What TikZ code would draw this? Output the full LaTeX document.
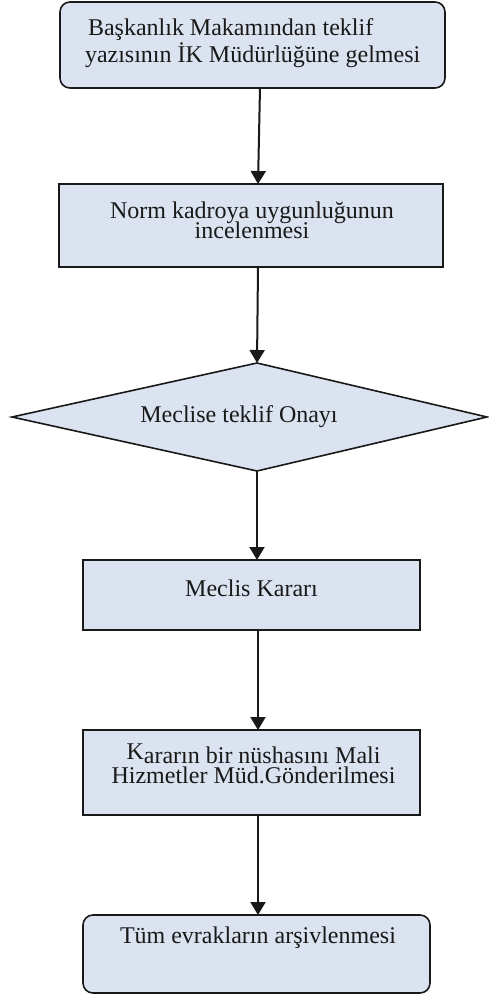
\documentclass[tikz,border=0pt]{standalone}
\usepackage{fontspec}
\setmainfont{Liberation Serif}
\usetikzlibrary{arrows.meta}
\definecolor{boxfill}{HTML}{DCE3F0}
\newcommand{\myskips}{\lineskiplimit-100pt\relax\lineskip0pt\relax}
\begin{document}
\begin{tikzpicture}[x=1pt,y=-1pt,
  shapeline/.style={draw=black!90, line width=1.6pt, fill=boxfill},
  box/.style={shapeline, inner sep=0pt, outer sep=0pt},
  rbox/.style={box, rounded corners=10pt},
  txt/.style={font={\fontsize{24}{27}\selectfont\myskips}, inner sep=0pt, outer sep=0pt, text=black!90},
  tight/.style={font={\fontsize{24}{20}\selectfont\myskips}},
  arr/.style={line width=2pt, draw=black!90, -{Triangle[width=15pt,length=13pt]}},
]
\useasboundingbox (0,0) rectangle (489,998);
\path[fill=white] (0,0) rectangle (489,998);

% shapes
\node[rbox, minimum width=385pt, minimum height=86pt] (b1) at (252.5,45) {};
\node[box, minimum width=384pt, minimum height=83pt] (b2) at (251,225.5) {};
\coordinate (dt) at (257,363);
\coordinate (dr) at (487,417);
\coordinate (db) at (257,471);
\coordinate (dl) at (12,417);
\draw[shapeline, line join=miter] (dt) -- (dr) -- (db) -- (dl) -- cycle;
\node[box, minimum width=337pt, minimum height=70pt] (b4) at (251.5,595) {};
\node[box, minimum width=337pt, minimum height=85pt] (b5) at (251.5,772.5) {};
\node[rbox, minimum width=347pt, minimum height=78pt] (b6) at (256.5,954) {};

% texts
\node[txt, align=left, anchor=north west] (t1) at (85,18)
  {\rule{0pt}{18pt}\hspace{3pt}Başkanlık Makamından teklif\\yazısının İK Müdürlüğüne gelmesi};
\node[txt, tight, align=center, anchor=north] (t2) at (252,200)
  {\rule{0pt}{18pt}Norm kadroya uygunluğunun\\incelenmesi};
\node[txt, anchor=base] (t3) at (239,422) {Meclise teklif Onayı};
\node[txt, anchor=base] (t4) at (251.5,596) {Meclis Kararı};
\node[txt, tight, align=center, anchor=north] (t5) at (253.5,742)
  {\rule{0pt}{21pt}\raisebox{4pt}{K}ararın bir nüshasını Mali\\Hizmetler Müd.Gönderilmesi};
\node[txt, anchor=base west] (t6) at (120,943) {Tüm evrakların arşivlenmesi};

% connectors
\draw[arr] ([xshift=7.5pt]b1.south) -- ([xshift=7pt]b2.north);
\draw[arr] ([xshift=7pt]b2.south) -- (dt);
\draw[arr] (db) -- ([xshift=5.5pt]b4.north);
\draw[arr] ([xshift=6.5pt]b4.south) -- ([xshift=6.5pt]b5.north);
\draw[arr] ([xshift=6.5pt]b5.south) -- ([xshift=1.5pt]b6.north);
\end{tikzpicture}
\end{document}
